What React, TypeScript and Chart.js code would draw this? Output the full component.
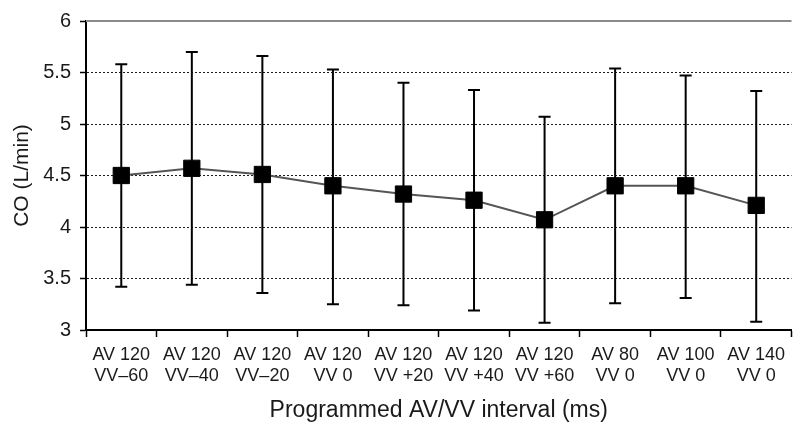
import React, { useEffect, useRef } from "react";
import { Chart, registerables } from "chart.js";

Chart.register(...registerables);

const categories: string[][] = [
  ["AV 120", "VV\u201360"],
  ["AV 120", "VV\u201340"],
  ["AV 120", "VV\u201320"],
  ["AV 120", "VV 0"],
  ["AV 120", "VV +20"],
  ["AV 120", "VV +40"],
  ["AV 120", "VV +60"],
  ["AV 80", "VV 0"],
  ["AV 100", "VV 0"],
  ["AV 140", "VV 0"],
];
const meanCO: number[] = [4.5, 4.57, 4.51, 4.4, 4.32, 4.26, 4.07, 4.4, 4.4, 4.21];
const upperCO: number[] = [5.58, 5.7, 5.66, 5.53, 5.4, 5.33, 5.07, 5.54, 5.47, 5.32];
const lowerCO: number[] = [3.42, 3.44, 3.36, 3.25, 3.24, 3.19, 3.07, 3.26, 3.31, 3.08];
const yMin = 3;
const yMax = 6;
const yStep = 0.5;

const FONT = "'Liberation Sans', Arial, sans-serif";

const errorBarPlugin = {
  id: "errorBars",
  beforeDatasetsDraw(chart: any) {
    const { ctx, scales } = chart;
    const xs = scales.x;
    const ys = scales.y;
    ctx.save();
    ctx.strokeStyle = "#8a8a8a";
    ctx.lineWidth = 2;
    ctx.beginPath();
    const yt = ys.getPixelForValue(yMax);
    ctx.moveTo(chart.chartArea.left, yt);
    ctx.lineTo(chart.chartArea.right, yt);
    ctx.stroke();
    ctx.strokeStyle = "#000";
    ctx.lineWidth = 2;
    const cap = 6;
    for (let i = 0; i < meanCO.length; i++) {
      const x = xs.getPixelForValue(i);
      const yu = ys.getPixelForValue(upperCO[i]);
      const yl = ys.getPixelForValue(lowerCO[i]);
      ctx.beginPath();
      ctx.moveTo(x, yu);
      ctx.lineTo(x, yl);
      ctx.moveTo(x - cap, yu);
      ctx.lineTo(x + cap, yu);
      ctx.moveTo(x - cap, yl);
      ctx.lineTo(x + cap, yl);
      ctx.stroke();
    }
    ctx.restore();
  },
};

export default function App() {
  const ref = useRef<HTMLCanvasElement | null>(null);
  useEffect(() => {
    if (!ref.current) return;
    const chart = new Chart(ref.current, {
      type: "line",
      data: {
        labels: categories,
        datasets: [
          {
            data: meanCO,
            borderColor: "#555555",
            borderWidth: 2,
            pointStyle: "rect",
            pointRadius: 11.5,
            pointBorderWidth: 1,
            pointBackgroundColor: "#000",
            pointBorderColor: "#000",
            tension: 0,
          },
        ],
      },
      options: {
        responsive: false,
        animation: false,
        layout: { padding: { top: 20, left: 0, right: 0, bottom: 0 } },
        plugins: {
          legend: { display: false },
          tooltip: { enabled: false },
        },
        scales: {
          x: {
            type: "category",
            offset: true,
            afterFit: (s: any) => {
              s.height = 94;
            },
            grid: {
              display: true,
              drawOnChartArea: false,
              drawTicks: true,
              tickLength: 7,
              tickColor: "#000",
              tickWidth: 1.5,
              offset: true,
            },
            border: { display: true, color: "#000", width: 2 },
            ticks: {
              color: "#1a1a1a",
              font: { family: FONT, size: 18, lineHeight: 1.18 },
              padding: 7,
              maxRotation: 0,
              autoSkip: false,
            },
            title: {
              display: true,
              text: "Programmed AV/VV interval (ms)",
              color: "#1a1a1a",
              font: { family: FONT, size: 23, lineHeight: 1.2 },
              padding: 0,
            },
          },
          y: {
            min: yMin,
            max: yMax,
            afterFit: (s: any) => {
              s.width = 86;
            },
            ticks: {
              stepSize: yStep,
              color: "#1a1a1a",
              font: { family: FONT, size: 20 },
              padding: 9,
              callback: (v: any) => String(Number(v)),
            },
            grid: {
              color: (c: any) =>
                c.tick && (c.tick.value === yMax || c.tick.value === yMin) ? "rgba(0,0,0,0)" : "#1a1a1a",
              lineWidth: 1,
              drawTicks: true,
              tickLength: 6,
              tickColor: "#000",
              tickWidth: 1.5,
            },
            border: { display: true, color: "#000", width: 2, dash: [2, 2] },
            title: {
              display: true,
              text: "CO (L/min)",
              color: "#1a1a1a",
              font: { family: FONT, size: 21, lineHeight: 1.2 },
              padding: 10,
            },
          },
        },
      },
      plugins: [errorBarPlugin],
    });
    return () => chart.destroy();
  }, []);
  return (
    <div style={{ position: "absolute", left: 0, top: 0, width: 804, height: 424 }}>
      <canvas ref={ref} width={804} height={424} style={{ width: 804, height: 424 }} />
    </div>
  );
}
